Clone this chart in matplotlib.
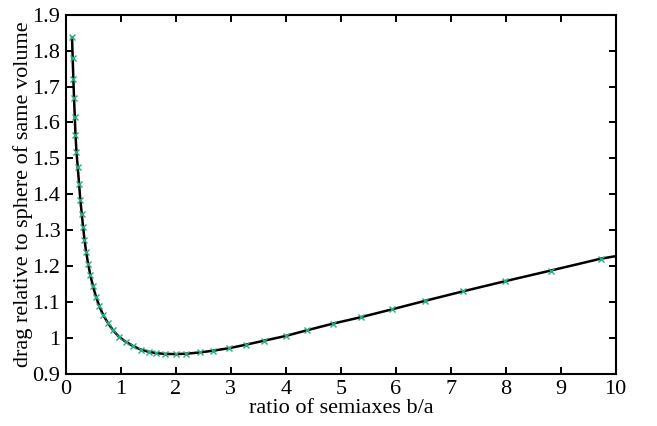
import matplotlib
matplotlib.use('Agg')
import matplotlib.pyplot as plt

plt.rcParams['font.family'] = ['Liberation Serif', 'DejaVu Serif']

ratio = [0.109, 0.121, 0.133, 0.146, 0.159, 0.172, 0.190, 0.213, 0.237,
         0.260, 0.286, 0.311, 0.336, 0.366, 0.401, 0.443, 0.491, 0.545,
         0.605, 0.677, 0.758, 0.855, 0.959, 1.086, 1.219, 1.359, 1.504,
         1.645, 1.800, 1.995, 2.19, 2.43, 2.68, 2.97, 3.27, 3.61, 4.0,
         4.39, 4.85, 5.36, 5.93, 6.54, 7.22, 7.98, 8.82, 9.73]
drag = [1.837, 1.779, 1.721, 1.667, 1.616, 1.566, 1.519, 1.475, 1.430,
        1.385, 1.346, 1.309, 1.274, 1.240, 1.2075, 1.175, 1.144, 1.115,
        1.089, 1.064, 1.043, 1.022, 1.004, 0.990, 0.978, 0.968, 0.962,
        0.958, 0.956, 0.9555, 0.9565, 0.960, 0.965, 0.972, 0.9815, 0.993, 1.006,
        1.022, 1.040, 1.058, 1.080, 1.104, 1.130, 1.158, 1.188, 1.221]

# the curve runs a bit past the last sample
line_x = ratio + [10.0]
line_y = drag + [1.228]

xticks = [0, 1, 2, 3, 4, 5, 6, 7, 8, 9, 10]
yticks = [0.9, 1.0, 1.1, 1.2, 1.3, 1.4, 1.5, 1.6, 1.7, 1.8, 1.9]
ylabels = ['0.9', '1', '1.1', '1.2', '1.3', '1.4', '1.5', '1.6', '1.7', '1.8', '1.9']

fig = plt.figure(figsize=(6.57, 4.26), dpi=100)
ax = fig.add_axes([0.1005, 0.122, 0.8365, 0.8435])

ax.plot(line_x, line_y, color='black', lw=1.8, zorder=2)
ax.plot(ratio, drag, ls='none', marker='x', ms=5, mew=1.0,
        color='#22ad85', zorder=3)

ax.set_xlim(0, 10)
ax.set_ylim(0.9, 1.9)
ax.set_xticks(xticks)
ax.set_yticks(yticks)
ax.set_yticklabels(ylabels)
ax.tick_params(direction='in', length=5, width=1.4, labelsize=16,
               top=True, right=True, pad=4)
for s in ax.spines.values():
    s.set_linewidth(1.5)

ax.set_xlabel('ratio of semiaxes b/a', fontsize=16, labelpad=0)
ax.set_ylabel('drag relative to sphere of same volume', fontsize=16, labelpad=0)

fig.savefig('out.png', dpi=100)
